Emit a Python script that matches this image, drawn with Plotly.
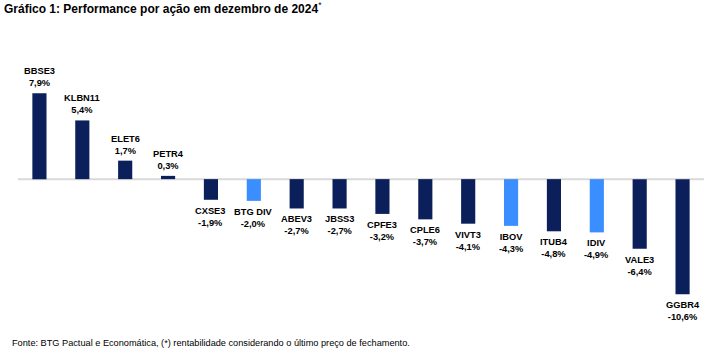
import plotly.graph_objects as go

tickers = ["BBSE3", "KLBN11", "ELET6", "PETR4", "CXSE3", "BTG DIV", "ABEV3", "JBSS3",
           "CPFE3", "CPLE6", "VIVT3", "IBOV", "ITUB4", "IDIV", "VALE3", "GGBR4"]
returns = [7.9, 5.4, 1.7, 0.3, -1.9, -2.0, -2.7, -2.7, -3.2, -3.7, -4.1, -4.3, -4.8, -4.9, -6.4, -10.6]
benchmarks = ["BTG DIV", "IBOV", "IDIV"]

DARK = "#0B1F5B"
LIGHT = "#3A8EFF"
colors = [LIGHT if t in benchmarks else DARK for t in tickers]

fig = go.Figure()
fig.add_trace(go.Bar(x=tickers, y=returns, marker_color=colors, width=0.33,
                     marker_line_width=0, hoverinfo="skip"))

lab_font = dict(family="Liberation Sans Narrow, Arial Narrow, Arial", size=9.3, color="#000000")
for t, v in zip(tickers, returns):
    txt = f"<b>{t}</b><br><b>{v:.1f}%</b>".replace(".", ",")
    fig.add_annotation(x=t, y=v, text=txt, showarrow=False, font=lab_font,
                       yanchor="bottom" if v >= 0 else "top",
                       yshift=3 if v >= 0 else -4, align="center")

fig.add_annotation(xref="paper", yref="paper", x=-16 / 686, y=1 + (65 + 2) / 250,
                   xanchor="left", yanchor="top",
                   text="<b>Gráfico 1: Performance por ação em dezembro de 2024</b><sup>*</sup>",
                   showarrow=False, font=dict(family="Arial", size=12, color="#000"))
fig.add_annotation(xref="paper", yref="paper", x=-8 / 686, y=-(343 - 315) / 250,
                   xanchor="left", yanchor="middle", showarrow=False,
                   text="Fonte: BTG Pactual e Economática, (*) rentabilidade considerando o último preço de fechamento.",
                   font=dict(family="Arial", size=9.2, color="#000"))

fig.update_layout(
    width=707, height=353,
    margin=dict(l=18, r=3, t=65, b=38),
    paper_bgcolor="white", plot_bgcolor="white",
    showlegend=False,
    xaxis=dict(visible=False, range=[-0.5, 15.5]),
    yaxis=dict(visible=False, range=[-12.5, 10.5], zeroline=False),
    shapes=[dict(type="line", xref="paper", yref="y", x0=0, x1=1, y0=0, y1=0,
                 line=dict(color="#D9D9D9", width=2), layer="below")],
)

fig.write_html("out.html")
